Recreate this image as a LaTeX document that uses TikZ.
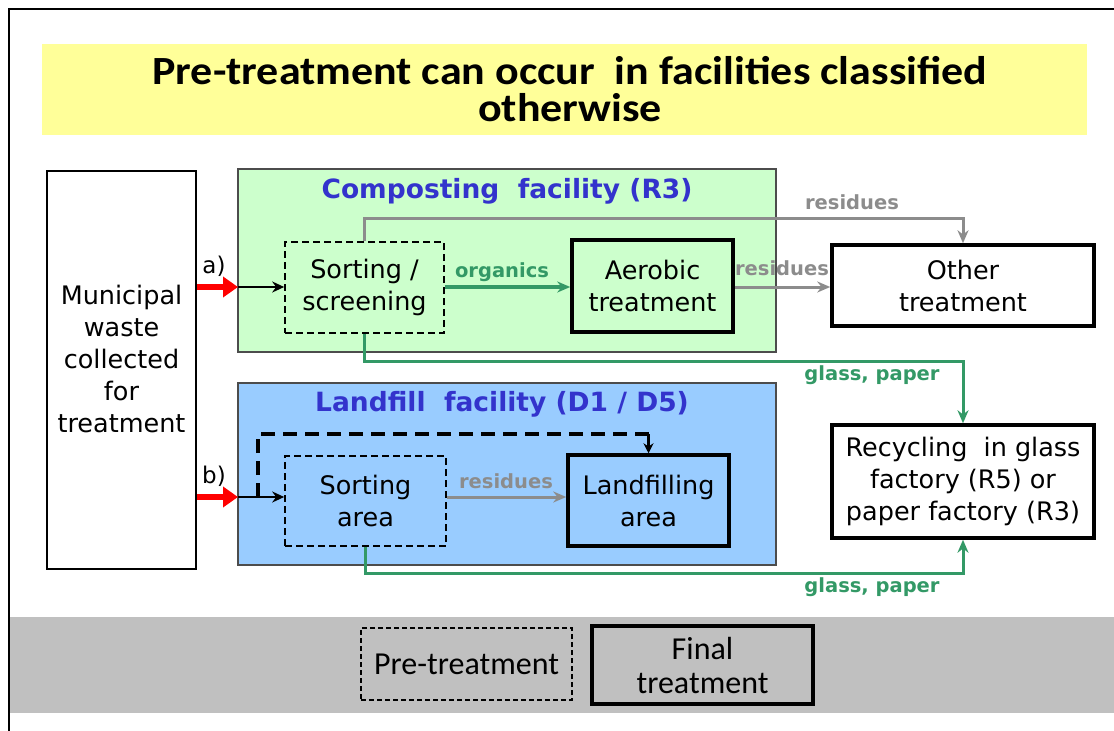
\documentclass[tikz,border=0pt]{standalone}
\usepackage{fontspec}
\setmainfont{DejaVu Sans}
\newfontfamily\titlefont{Carlito}
\usetikzlibrary{arrows.meta}
\definecolor{titlebg}{HTML}{FFFF99}
\definecolor{compbg}{HTML}{CCFFCC}
\definecolor{landbg}{HTML}{99CCFF}
\definecolor{facblue}{HTML}{3333CC}
\definecolor{flowgreen}{HTML}{339966}
\definecolor{flowgray}{HTML}{8C8C8C}
\definecolor{bandgray}{HTML}{C0C0C0}
\tikzset{
  txt/.style={font=\fontsize{25.5}{32}\selectfont, align=center},
  plainbox/.style={txt, draw=black, line width=1.5pt, inner sep=0pt},
  prebox/.style={txt, draw=black, line width=1.6pt, dash pattern=on 7pt off 4pt, inner sep=0pt},
  finalbox/.style={txt, draw=black, line width=3.5pt, inner sep=0pt},
  facility/.style={draw=black!70, line width=1.5pt, inner sep=0pt},
  factitle/.style={font=\fontsize{26.5}{30}\selectfont\bfseries, text=facblue},
  flowlabel/.style={font=\fontsize{19.5}{22}\selectfont\bfseries},
  feed/.style={red, line width=6pt, -{Triangle[length=15pt,width=20pt]}},
  inlet/.style={black, line width=2.5pt, -{Stealth[length=12pt,width=11pt]}},
  greenflow/.style={flowgreen, line width=3pt, -{Stealth[length=13pt,width=11pt]}},
  grayflow/.style={flowgray, line width=3pt, -{Stealth[length=13pt,width=11pt]}},
  legendtxt/.style={font=\titlefont\fontsize{32}{34}\selectfont, align=center}
}
\begin{document}
\begin{tikzpicture}[x=1pt,y=-1pt]
\useasboundingbox (0,0) rectangle (1114,731);
% outer frame and title band
\draw[line width=1.8pt] (9,731) -- (9,9) -- (1114,9);
\fill[titlebg] (42,44) rectangle (1087,135);
\node[font=\titlefont\bfseries\fontsize{40}{36.5}\selectfont, align=center, xscale=1.1, transform shape] (title) at (570,89)
  {Pre-treatment can occur\ \ in facilities classified\\otherwise};

% source
\node[plainbox, fill=white, minimum width=149pt, minimum height=398pt] (muni) at (121.5,370) {};
\node[txt] (munitext) at (121.5,359) {Municipal\\waste\\collected\\for\\treatment};

% facilities
\node[facility, fill=compbg, minimum width=538pt, minimum height=183pt] (comp) at (507,260.5) {};
\node[factitle] (comptitle) at (507,191) {Composting\ \ facility (R3)};
\node[facility, fill=landbg, minimum width=538pt, minimum height=182pt] (land) at (507,474) {};
\node[factitle] (landtitle) at (502,404) {Landfill\ \ facility (D1 / D5)};

% treatment steps
\node[prebox, minimum width=159pt, minimum height=91pt] (sort1) at (364.5,287.5) {Sorting /\\screening};
\node[finalbox, minimum width=161pt, minimum height=92pt] (aer) at (652.5,286) {Aerobic\\treatment};
\node[finalbox, fill=white, minimum width=262pt, minimum height=81pt] (other) at (963,285.5) {Other\\treatment};
\node[prebox, minimum width=161pt, minimum height=90pt] (sort2) at (365.5,501) {Sorting\\area};
\node[finalbox, minimum width=161pt, minimum height=91pt] (lfa) at (648.5,500.5) {Landfilling\\area};
\node[finalbox, fill=white, minimum width=262pt, minimum height=113pt] (recyc) at (963,481.5)
  {Recycling\ \ in glass\\factory (R5) or\\paper factory (R3)};

% entry points
\coordinate (ina) at (238,287);
\coordinate (inb) at (238,497);
\coordinate (bypass) at (258,497);
\draw[feed] (muni.east |- ina) -- (ina);
\draw[feed] (muni.east |- inb) -- (inb);
\draw[inlet] (ina) -- (sort1.west |- ina);
\draw[inlet] (inb) -- (sort2.west |- inb);
\node[font=\fontsize{23}{26}\selectfont] (la) at (214,266) {a)};
\node[font=\fontsize{23}{26}\selectfont] (lb) at (214,476) {b)};

% flows in the composting facility
\coordinate (toprail) at (0,218);
\draw[grayflow] (sort1.north) -- (sort1.north |- toprail) -| (other.north);
\node[flowlabel, text=flowgray] (res1) at (852,202) {residues};
\draw[greenflow, line width=4.5pt] (sort1.east |- ina) -- (aer.west |- ina);
\node[flowlabel, text=flowgreen] (org) at (502,272) {organics};
\draw[grayflow] (aer.east |- ina) -- (other.west |- ina);
\node[flowlabel, text=flowgray] (res2) at (782,268) {residues};

% flows in the landfill facility
\coordinate (dashrail) at (0,434);
\draw[black, line width=3.5pt, dash pattern=on 14pt off 8pt] (bypass) -- (bypass |- dashrail) -- (lfa.north |- dashrail);
\draw[black, line width=2.5pt, -{Stealth[length=10pt,width=10pt]}] (lfa.north |- dashrail) -- (lfa.north);
\draw[grayflow] (sort2.east |- inb) -- (lfa.west |- inb);
\node[flowlabel, text=flowgray] (res3) at (506,481) {residues};

% recovered glass and paper
\coordinate (g1) at (0,361);
\coordinate (g2) at (0,573);
\draw[greenflow] (sort1.south) -- (sort1.south |- g1) -| (recyc.north);
\draw[greenflow] (sort2.south) -- (sort2.south |- g2) -| (recyc.south);
\node[flowlabel, text=flowgreen] (gp1) at (872,375) {glass, paper};
\node[flowlabel, text=flowgreen] (gp2) at (872,587) {glass, paper};

% legend
\fill[bandgray] (9.9,617) rectangle (1114,713);
\node[legendtxt, draw=black, line width=1.6pt, dash pattern=on 5pt off 3pt, minimum width=211pt, minimum height=72pt, inner sep=0pt] (legpre) at (466.5,664) {Pre-treatment};
\node[legendtxt, draw=black, line width=3.5pt, minimum width=221pt, minimum height=78pt, inner sep=0pt] (legfin) at (702.5,665) {Final\\treatment};
\end{tikzpicture}
\end{document}
